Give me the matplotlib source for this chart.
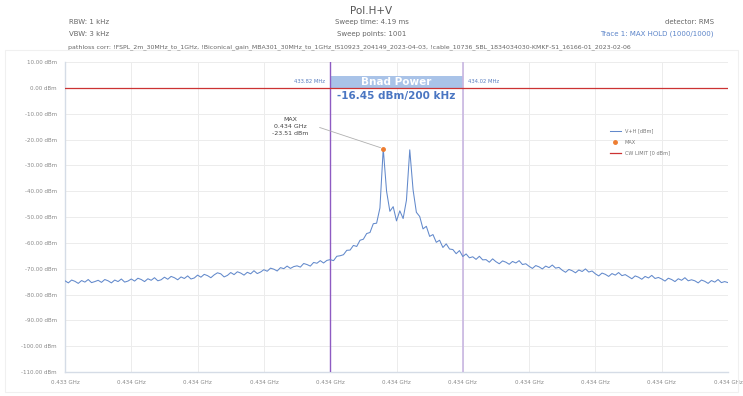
import numpy as np
import matplotlib
matplotlib.use("Agg")
import matplotlib.pyplot as plt
from matplotlib.patches import Rectangle

# ---- data ----
f_start_mhz = 433.42
f_stop_mhz = 434.42
trace_dbm = [
    -74.7, -75.5, -74.4, -74.9, -75.7, -74.6, -75.2, -74.2, -75.4, -75.0,
    -74.5, -75.3, -74.2, -74.7, -75.5, -74.4, -75.0, -74.0, -75.2, -74.8,
    -74.0, -74.8, -73.7, -74.2, -75.0, -73.9, -74.5, -73.5, -74.7, -74.3,
    -73.3, -74.1, -73.0, -73.5, -74.3, -73.2, -73.8, -72.8, -74.0, -73.6,
    -72.5, -73.3, -72.2, -72.7, -73.5, -72.4, -71.6, -72.0, -73.2, -72.6,
    -71.5, -72.3, -71.2, -71.7, -72.5, -71.4, -72.0, -70.8, -71.9, -71.3,
    -70.4, -71.0, -69.8, -70.2, -70.9, -69.6, -70.0, -69.0, -69.9, -69.2,
    -68.9, -69.4, -68.0, -68.4, -69.0, -67.6, -67.9, -66.9, -67.8, -66.8,
    -66.5, -66.9, -65.2, -65.0, -64.6, -62.9, -62.8, -61.0, -61.4, -59.0,
    -58.6, -56.4, -56.0, -52.6, -52.4, -46.5, -23.51, -40.0, -47.8, -46.0,
    -51.5, -47.6, -50.6, -43.5, -24.0, -39.5, -48.2, -49.8, -54.6, -53.6,
    -57.5, -56.8, -59.8, -59.0, -61.8, -60.4, -62.4, -62.6, -64.2, -63.0,
    -65.3, -64.3, -65.8, -65.4, -66.4, -65.2, -66.6, -66.5, -67.5, -66.2,
    -67.3, -68.1, -67.0, -67.5, -68.3, -67.2, -67.8, -66.9, -68.4, -68.1,
    -69.1, -69.9, -68.8, -69.3, -70.1, -69.0, -69.6, -68.6, -69.8, -69.5,
    -70.6, -71.4, -70.3, -70.8, -71.6, -70.5, -71.1, -70.1, -71.3, -70.9,
    -72.0, -72.8, -71.7, -72.2, -73.0, -71.9, -72.5, -71.5, -72.7, -72.3,
    -73.1, -73.9, -72.8, -73.3, -74.1, -73.0, -73.6, -72.6, -73.8, -73.4,
    -74.0, -74.8, -73.7, -74.2, -75.0, -73.9, -74.5, -73.5, -74.7, -74.3,
    -74.7, -75.5, -74.4, -74.9, -75.7, -74.6, -75.2, -74.2, -75.4, -75.0,
    -75.4,
]
band_lo_mhz = 433.82
band_hi_mhz = 434.02
cw_limit_dbm = 0.0
band_power_text = "-16.45 dBm/200 kHz"
y_ticks = list(range(10, -111, -10))

freq = np.linspace(f_start_mhz, f_stop_mhz, len(trace_dbm))
trace = np.array(trace_dbm)
imax = int(np.argmax(trace))

fig = plt.figure(figsize=(7.43, 3.96), dpi=100)
fig.patch.set_facecolor("white")
fig.patches.append(Rectangle((5/743, 4/396), 733/743, 342/396, transform=fig.transFigure,
                             fill=False, edgecolor="#f0f0f0", lw=0.8))

ax = fig.add_axes([65/743, 1-372/396, 663/743, 310/396])
ax.set_xlim(f_start_mhz, f_stop_mhz)
ax.set_ylim(-110, 10)

xt = np.linspace(f_start_mhz, f_stop_mhz, 11)
ax.set_xticks(xt)
ax.set_xticklabels([f"{v/1000:.3f} GHz" for v in xt])
ax.set_yticks(y_ticks)
ax.set_yticklabels([f"{v:.2f} dBm" for v in y_ticks])
ax.tick_params(axis="both", labelsize=4, colors="#888888", length=0, pad=6)
ax.grid(True, color="#ececec", lw=0.7)
ax.set_axisbelow(True)
for s in ["top", "right"]:
    ax.spines[s].set_visible(False)
for s in ["left", "bottom"]:
    ax.spines[s].set_color("#d5dce6")
    ax.spines[s].set_linewidth(1.0)

# band markers
ax.axvline(band_lo_mhz, color="#8e5bc2", lw=1.0, zorder=3)
ax.axvline(band_hi_mhz, color="#c9b6e2", lw=1.2, zorder=3)
ax.add_patch(Rectangle((band_lo_mhz, 0), band_hi_mhz-band_lo_mhz, 4.7, facecolor="#a9c3e8",
                       edgecolor="none", zorder=2))
ax.text((band_lo_mhz+band_hi_mhz)/2, 2.4, "Bnad Power", color="white", fontsize=7.5,
        fontweight="bold", ha="center", va="center", zorder=4)
ax.text((band_lo_mhz+band_hi_mhz)/2, -3.3, band_power_text, color="#4a76c2", fontsize=7.5,
        fontweight="bold", ha="center", va="center", zorder=4)
ax.text(band_lo_mhz-0.008, 2.4, f"{band_lo_mhz:.2f} MHz", color="#5a7fc0", fontsize=3.8,
        ha="right", va="center")
ax.text(band_hi_mhz+0.008, 2.4, f"{band_hi_mhz:.2f} MHz", color="#5a7fc0", fontsize=3.8,
        ha="left", va="center")

# CW limit
ax.axhline(cw_limit_dbm, color="#cc3333", lw=0.9, zorder=3, label="CW LIMIT [0 dBm]")

# trace
ax.plot(freq, trace, color="#6289cb", lw=0.75, zorder=5, label="V+H [dBm]")
ax.plot(freq[imax], trace[imax], "o", color="#ed7d31", ms=2.5, zorder=6, label="MAX")

# annotation
ax.annotate("", xy=(freq[imax], trace[imax]), xytext=(433.80, -15),
            arrowprops=dict(arrowstyle="-", color="#b0b0b0", lw=0.6))
ax.text(433.76, -15, f"MAX\n{freq[imax]/1000:.3f} GHz\n{trace[imax]:.2f} dBm", fontsize=4.5,
        color="#444444", ha="center", va="center", linespacing=1.5)

h, l = ax.get_legend_handles_labels()
order = [l.index("V+H [dBm]"), l.index("MAX"), l.index("CW LIMIT [0 dBm]")]
leg = ax.legend([h[i] for i in order], [l[i] for i in order], loc="upper left",
                bbox_to_anchor=(0.815, 0.80), fontsize=3.6, frameon=False,
                handlelength=2.2, labelspacing=1.2, labelcolor="#777777")

# header texts
fig.text(371/743, 1-11/396, "Pol.H+V", ha="center", va="center", fontsize=7.5, color="#555555")
fig.text(372/743, 1-22/396, "Sweep time: 4.19 ms", ha="center", va="center", fontsize=5, color="#666666")
fig.text(372/743, 1-34/396, "Sweep points: 1001", ha="center", va="center", fontsize=5, color="#666666")
fig.text(69/743, 1-22/396, "RBW: 1 kHz", ha="left", va="center", fontsize=5, color="#666666")
fig.text(69/743, 1-34/396, "VBW: 3 kHz", ha="left", va="center", fontsize=5, color="#666666")
fig.text(714/743, 1-22/396, "detector: RMS", ha="right", va="center", fontsize=5, color="#666666")
fig.text(714/743, 1-34/396, "Trace 1: MAX HOLD (1000/1000)", ha="right", va="center", fontsize=5,
         color="#5b84c9")
fig.text(68/743, 1-47/396,
         "pathloss corr: !FSPL_2m_30MHz_to_1GHz, !Biconical_gain_MBA301_30MHz_to_1GHz_IS10923_204149_2023-04-03, "
         "!cable_10736_SBL_1834034030-KMKF-S1_16166-01_2023-02-06",
         ha="left", va="center", fontsize=4.5, color="#666666")

fig.savefig("out.png", dpi=100)
